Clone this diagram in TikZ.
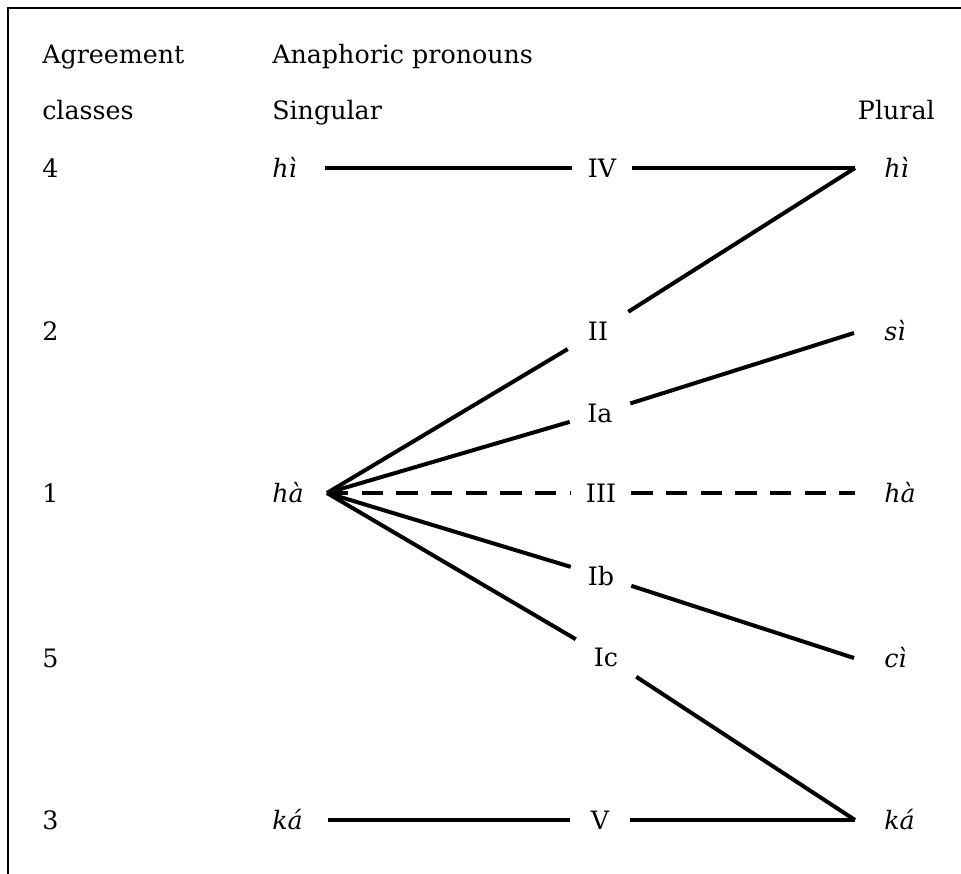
\documentclass[tikz,border=0pt]{standalone}
\usepackage{fontspec}
\setmainfont{DejaVu Serif}
\begin{document}
\begin{tikzpicture}[x=0.75pt,y=-0.75pt,
  every node/.style={font=\fontsize{19}{23}\selectfont, inner sep=0pt},
  lbl/.style={anchor=base west},
  form/.style={anchor=base west, font=\fontsize{19}{23}\selectfont\itshape},
  mid/.style={anchor=center, minimum width=45pt, minimum height=30pt},
  conn/.style={line width=3pt},
  dconn/.style={line width=3pt, dash pattern=on 16pt off 10pt}]
\useasboundingbox (0,0) rectangle (961,874);
\draw[line width=1.5pt] (8,874) -- (8,8) -- (961,8);
% headers
\node[lbl] (agr) at (42,64) {Agreement};
\node[lbl] (cls) at (42,119) {classes};
\node[lbl] (ana) at (272,64) {Anaphoric pronouns};
\node[lbl] (sg) at (272,119) {Singular};
\node[anchor=base east] (pl) at (935,119) {Plural};
% class numbers
\node[lbl] (n4) at (42,177) {4};
\node[lbl] (n2) at (42,340) {2};
\node[lbl] (n1) at (42,502) {1};
\node[lbl] (n5) at (42,667) {5};
\node[lbl] (n3) at (42,829) {3};
% singular forms
\node[form] (shi) at (272,177) {hì};
\node[form] (sha) at (272,502) {hà};
\node[form] (ska) at (272,829) {ká};
% plural forms
\node[form] (phi) at (884,177) {hì};
\node[form] (psi) at (884,340) {sì};
\node[form] (pha) at (884,502) {hà};
\node[form] (pci) at (884,667) {cì};
\node[form] (pka) at (884,829) {ká};
% middle labels
\node[mid] (IV) at (602,168) {IV};
\node[mid] (II) at (598,331) {II};
\node[mid] (Ia) at (600,413) {Ia};
\node[mid] (III) at (601,493) {III};
\node[mid] (Ib) at (601,576) {Ib};
\node[mid] (Ic) at (606,657) {Ic};
\node[mid] (V) at (600,820) {V};
% line ends
\coordinate (sgA) at (325,168);
\coordinate (apex) at (327,493);
\coordinate (sgK) at (328,820);
\coordinate (plH) at (855,168);
\coordinate (plS) at (854,333);
\coordinate (plHa) at (855,493);
\coordinate (plC) at (854,658);
\coordinate (plK) at (855,820);
% connectors
\draw[conn] (sgA) -- (IV);
\draw[conn] (IV) -- (plH);
\draw[conn] (plH) -- (II);
\draw[conn] (II) -- (apex);
\draw[conn] (Ia) -- (apex);
\draw[conn] (Ib) -- (apex);
\draw[conn] (Ic) -- (apex);
\draw[dconn] (apex) -- (III);
\draw[dconn] (III) -- (plHa);
\draw[conn] (Ia) -- (plS);
\draw[conn] (Ib) -- (plC);
\draw[conn] (Ic) -- (plK);
\draw[conn] (sgK) -- (V);
\draw[conn] (V) -- (plK);
\end{tikzpicture}
\end{document}
